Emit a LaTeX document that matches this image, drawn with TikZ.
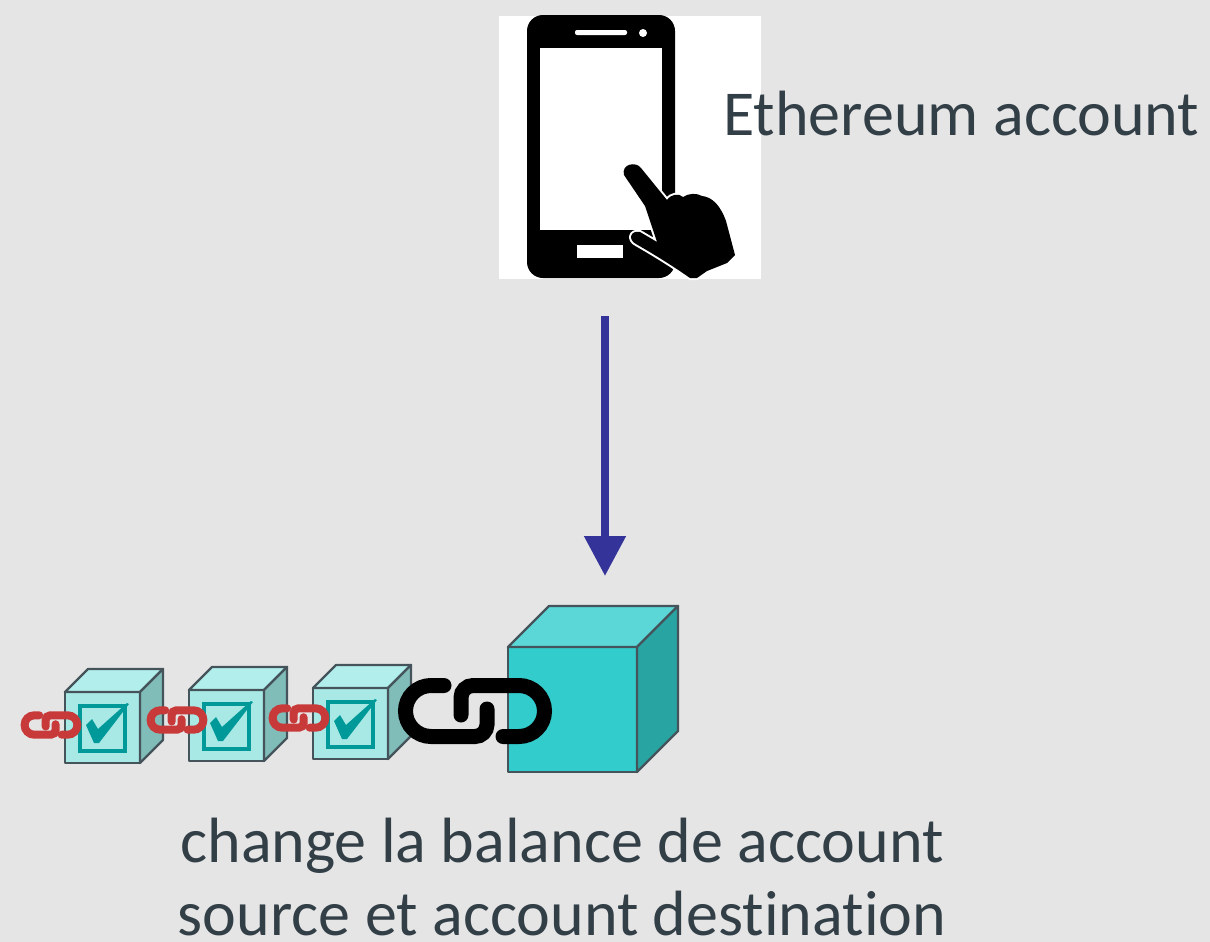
\documentclass[tikz,border=0pt]{standalone}
\usepackage{fontspec}
\setmainfont{Carlito}[Ligatures=NoCommon]
\usetikzlibrary{arrows.meta}

\definecolor{canvas}{HTML}{E5E5E5}
\definecolor{inkgray}{HTML}{333F47}
\definecolor{edgegray}{HTML}{44545A}
\definecolor{arrowblue}{HTML}{333399}
\definecolor{linkred}{HTML}{C83A3A}
\definecolor{tealbox}{HTML}{009999}
\definecolor{bigfront}{HTML}{33CCCC}
\definecolor{bigtop}{HTML}{5CD7D7}
\definecolor{bigside}{HTML}{28A5A3}
\definecolor{smallfront}{HTML}{A8E9E6}
\definecolor{smalltop}{HTML}{B2EEEB}
\definecolor{smallside}{HTML}{80BCB8}

\tikzset{cubeedge/.style={draw=edgegray, line width=1.2pt, line join=round}}

% cube: top left of front face, width, height, depth, front/top/side colours
\newcommand{\blockcube}[8]{%
  \filldraw[cubeedge, fill=#6] (#1,#2) rectangle ++(#3,#4);
  \filldraw[cubeedge, fill=#7] (#1,#2) -- ++(#5,-#5) -- ++(#3,0) -- ++(-#5,#5) -- cycle;
  \filldraw[cubeedge, fill=#8] (#1,#2) ++(#3,0) -- ++(#5,-#5) -- ++(0,#4) -- ++(-#5,#5) -- cycle;
}

% small validated block with its check box
\newcommand{\checkblock}[2]{%
  \blockcube{#1}{#2}{75}{71}{23}{smallfront}{smalltop}{smallside}
  \draw[tealbox, line width=1.6pt] (#1,#2) ++(15,14) rectangle ++(45,45);
  \fill[tealbox] (#1,#2) ++(21,33) -- ++(6,-6) -- ++(6,10) -- ++(29,-26)
    -- ++(2,1) -- ++(-30,39) -- ++(-5,0) -- cycle;
}

% chain link: centre, scale, stroke width, colour
\newcommand{\chainlink}[5]{%
  \begin{scope}[shift={(#1,#2)}, scale=#3, draw=#5, line width=#4, line cap=round]
    \draw (-31,-25.5) -- (-44,-25.5) arc[start angle=270, end angle=90, radius=25.5]
      -- (0,25.5) arc[start angle=90, end angle=0, radius=12] -- (12,-2);
    \draw (28,25.5) -- (44,25.5) arc[start angle=90, end angle=-90, radius=25.5]
      -- (-2,-25.5) arc[start angle=270, end angle=180, radius=12] -- (-14,4);
  \end{scope}}

\begin{document}
\begin{tikzpicture}[x=0.5pt, y=-0.5pt,
    labeltext/.style={font=\fontsize{32}{36.5}\selectfont, text=inkgray, inner sep=0pt},
    phonebox/.style={fill=white, inner sep=0pt, minimum width=131pt, minimum height=131.5pt},
    sendarrow/.style={arrowblue, line width=4pt, -{Triangle[width=20pt, length=20pt]}}]
  \useasboundingbox (0,0) rectangle (1210,942);
  \fill[canvas] (0,0) rectangle (1210,942);

  % the chain
  \checkblock{65}{692}
  \checkblock{189}{690}
  \checkblock{313}{688}
  \blockcube{508}{647}{129}{125}{41}{bigfront}{bigtop}{bigside}
  \chainlink{51}{725}{0.38}{4pt}{linkred}
  \chainlink{177}{720}{0.38}{4pt}{linkred}
  \chainlink{299}{718}{0.38}{4pt}{linkred}
  \chainlink{475}{711}{1}{7.5pt}{black}

  % phone
  \node[phonebox] (phone) at (630,147.5) {};
  \fill[rounded corners=8pt] (527,15) rectangle (675,278);
  \fill[white] (540,48) rectangle (662,230);
  \fill[white, rounded corners=1pt] (575,30) rectangle (627,35);
  \fill[white] (643,33) circle[radius=4];
  \fill[white] (577,245) rectangle (623,258);
  \fill[black, preaction={draw=white, line width=2pt, line join=round}]
    (624,175) .. controls (621,164) and (636,161) .. (641,168)
    -- (667,200)
    .. controls (671,194) and (679,193) .. (683,197)
    .. controls (689,193) and (697,193) .. (702,196)
    .. controls (713,197) and (721,207) .. (726,221)
    -- (735,255) -- (727,263) -- (707,271) -- (697,278)
    -- (690,278)
    .. controls (670,264) and (650,252) .. (636,244)
    .. controls (628,240) and (630,230) .. (640,232)
    -- (657,242) -- (645,206) -- cycle;
  \node[labeltext, anchor=base west] (account) at (723,135) {Ethereum account};

  % transaction sent to the new block
  \coordinate (tap) at (605,316);
  \coordinate (drop) at (605,576);
  \draw[sendarrow] (tap) -- (drop);

  \node[labeltext, align=center, anchor=base] (balance) at (562,935)
    {change la balance de account\\source et account destination};
\end{tikzpicture}
\end{document}
